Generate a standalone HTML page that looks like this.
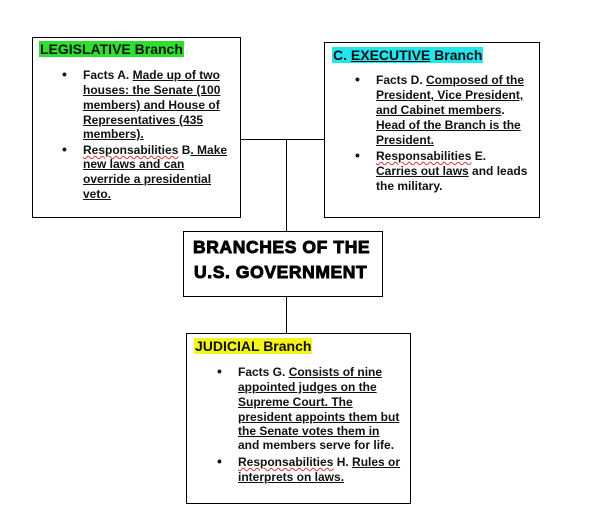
<!DOCTYPE html>
<html><head><meta charset="utf-8"><style>
body{margin:0;width:608px;height:531px;background:#fff;position:relative;overflow:hidden;font-family:"Liberation Sans",Arial,sans-serif;color:#111}
.b{position:absolute;border:1px solid #000;background:#fff;box-sizing:border-box}
.l{position:absolute;background:#000}
.t{position:absolute;font-weight:bold;font-size:12px;line-height:15px;white-space:nowrap}
.u{text-decoration:underline}
.w{text-decoration:underline wavy #d33;text-decoration-thickness:1px}
.h{position:absolute;font-weight:bold;font-size:14px;line-height:16px;white-space:nowrap;padding:0 1px}
.d{position:absolute;font-size:14px;font-weight:bold}
.c{position:absolute;font-weight:bold;font-size:17.5px;white-space:nowrap;letter-spacing:0.6px;-webkit-text-stroke:0.9px #000;color:#000}
</style></head><body>
<div class="l" style="left:240px;top:139px;width:84px;height:1px"></div>
<div class="l" style="left:286px;top:139px;width:1px;height:92px"></div>
<div class="l" style="left:286px;top:296px;width:1px;height:37px"></div>

<div class="b" style="left:32px;top:37px;width:209px;height:181px"></div>
<div class="h" style="left:39px;top:41px;background:#2de02d">LEGISLATIVE Branch</div>
<div class="d" style="left:62px;top:66px">•</div>
<div class="t" style="left:83px;top:68px">Facts A. <span class="u">Made up of two</span></div>
<div class="t u" style="left:83px;top:83px">houses: the Senate (100</div>
<div class="t u" style="left:83px;top:98px">members) and House of</div>
<div class="t u" style="left:83px;top:113px">Representatives (435</div>
<div class="t u" style="left:83px;top:127px">members).</div>
<div class="d" style="left:62px;top:141px">•</div>
<div class="t" style="left:83px;top:143px"><span class="w">Responsabilities</span> B<span class="u">. Make</span></div>
<div class="t u" style="left:83px;top:157px">new laws and can</div>
<div class="t u" style="left:83px;top:172px">override a presidential</div>
<div class="t u" style="left:83px;top:187px">veto.</div>

<div class="b" style="left:324px;top:42px;width:216px;height:176px"></div>
<div class="h" style="left:332px;top:47px;background:#22e6ee">C. <span class="u">EXECUTIVE</span> Branch</div>
<div class="d" style="left:355px;top:71px">•</div>
<div class="t" style="left:376px;top:73px">Facts D. <span class="u">Composed of the</span></div>
<div class="t u" style="left:376px;top:88px">President, Vice President,</div>
<div class="t" style="left:376px;top:103px"><span class="u">and Cabinet members</span>.</div>
<div class="t u" style="left:376px;top:118px">Head of the Branch is the</div>
<div class="t u" style="left:376px;top:133px">President.</div>
<div class="d" style="left:355px;top:147px">•</div>
<div class="t" style="left:376px;top:149px"><span class="w">Responsabilities</span> E.</div>
<div class="t" style="left:376px;top:164px"><span class="u">Carries out laws</span> and leads</div>
<div class="t" style="left:376px;top:179px">the military.</div>

<div class="b" style="left:183px;top:231px;width:200px;height:66px"></div>
<div class="c" style="left:193px;top:237px">BRANCHES OF THE</div>
<div class="c" style="left:194px;top:262px">U.S. GOVERNMENT</div>

<div class="b" style="left:186px;top:333px;width:225px;height:171px"></div>
<div class="h" style="left:194px;top:338px;background:#f5f51e">JUDICIAL Branch</div>
<div class="d" style="left:217px;top:363px">•</div>
<div class="t" style="left:238px;top:365px">Facts G. <span class="u">Consists of nine</span></div>
<div class="t u" style="left:238px;top:380px">appointed judges on the</div>
<div class="t u" style="left:238px;top:395px">Supreme Court. The</div>
<div class="t u" style="left:238px;top:410px">president appoints them but</div>
<div class="t u" style="left:238px;top:424px">the Senate votes them in</div>
<div class="t" style="left:238px;top:438px">and members serve for life.</div>
<div class="d" style="left:217px;top:453px">•</div>
<div class="t" style="left:238px;top:455px"><span class="w">Responsabilities</span> H. <span class="u">Rules or</span></div>
<div class="t u" style="left:238px;top:470px">interprets on laws.</div>
</body></html>
